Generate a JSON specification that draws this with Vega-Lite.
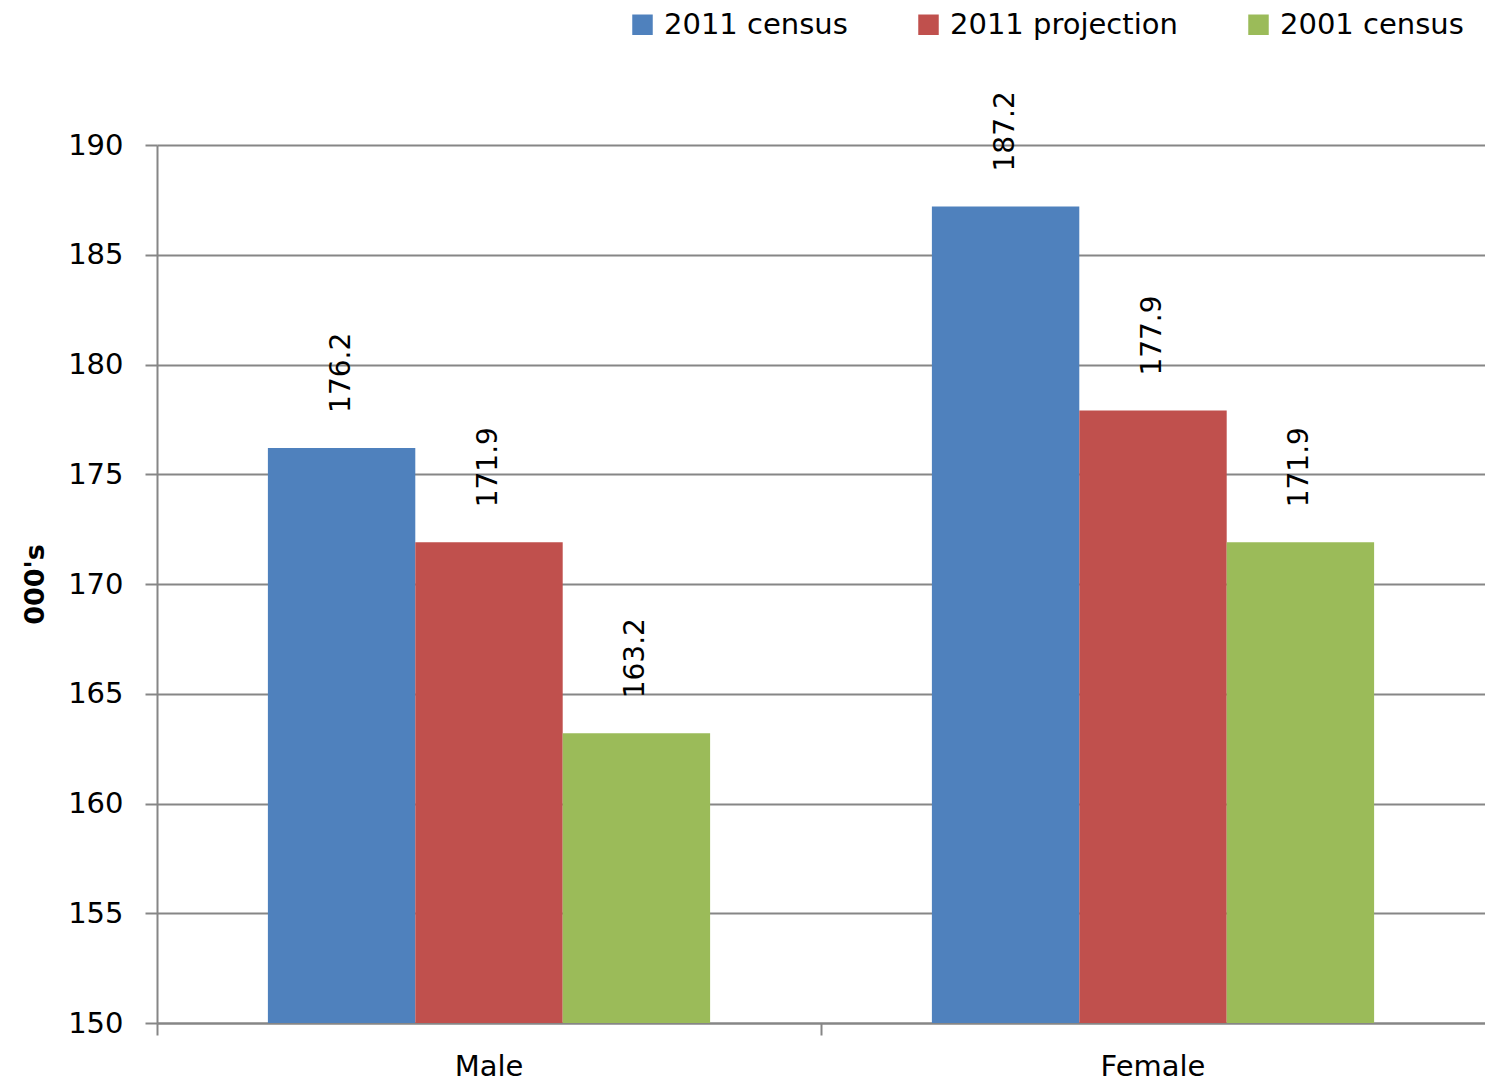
{
  "$schema": "https://vega.github.io/schema/vega-lite/v6.json",
  "autosize": {"type": "none"},
  "padding": {"left": 157, "top": 145, "right": 0, "bottom": 65},
  "width": 1328,
  "height": 878,
  "background": "white",
  "config": {
    "view": {"stroke": null},
    "font": "DejaVu Sans"
  },
  "data": {
    "values": [
      {"sex": "Male", "series": "2011 census", "value": 176.2},
      {"sex": "Male", "series": "2011 projection", "value": 171.9},
      {"sex": "Male", "series": "2001 census", "value": 163.2},
      {"sex": "Female", "series": "2011 census", "value": 187.2},
      {"sex": "Female", "series": "2011 projection", "value": 177.9},
      {"sex": "Female", "series": "2001 census", "value": 171.9}
    ]
  },
  "encoding": {
    "x": {
      "field": "sex", "type": "nominal", "sort": ["Male", "Female"],
      "scale": {"paddingInner": 0.334, "paddingOuter": 0.167},
      "axis": {
        "title": null, "labelAngle": 0, "labelFont": "DejaVu Sans", "labelFontSize": 29,
        "labelColor": "#000000", "labelPadding": 17, "ticks": true, "tickSize": 12,
        "tickColor": "#868686", "tickWidth": 2, "bandPosition": -0.25,
        "domainColor": "#868686", "domainWidth": 2, "grid": false
      }
    },
    "xOffset": {"field": "series", "type": "nominal", "sort": ["2011 census", "2011 projection", "2001 census"]},
    "y": {
      "field": "value", "type": "quantitative",
      "scale": {"domain": [150, 190], "zero": false, "nice": false},
      "axis": {
        "title": "000's", "titleFont": "DejaVu Sans", "titleFontSize": 27, "titleFontWeight": "bold",
        "titleColor": "#000000", "titlePadding": 18,
        "values": [150, 155, 160, 165, 170, 175, 180, 185, 190],
        "labelFont": "DejaVu Sans", "labelFontSize": 29, "labelColor": "#000000", "labelPadding": 22,
        "tickSize": 12, "tickColor": "#868686", "tickWidth": 2,
        "domainColor": "#868686", "domainWidth": 2,
        "grid": true, "gridColor": "#868686", "gridWidth": 2
      }
    }
  },
  "layer": [
    {
      "mark": {"type": "bar"},
      "encoding": {
        "y2": {"datum": 150},
        "color": {
          "field": "series", "type": "nominal",
          "sort": ["2011 census", "2011 projection", "2001 census"],
          "scale": {"domain": ["2011 census", "2011 projection", "2001 census"], "range": ["#4F81BD", "#C0504D", "#9BBB59"]},
          "legend": {
            "title": null, "orient": "none", "direction": "horizontal",
            "legendX": 471, "legendY": -135,
            "symbolType": "square", "symbolSize": 420, "symbolStrokeWidth": 0,
            "labelFont": "DejaVu Sans", "labelFontSize": 29, "labelColor": "#000000",
            "labelOffset": 7, "columnPadding": 66, "labelLimit": 400
          }
        }
      }
    },
    {
      "mark": {"type": "text", "angle": 270, "align": "left", "baseline": "middle", "dx": 35, "fontSize": 28, "font": "DejaVu Sans", "color": "#000000"},
      "encoding": {
        "text": {"field": "value", "type": "quantitative", "format": ".1f"}
      }
    }
  ]
}
